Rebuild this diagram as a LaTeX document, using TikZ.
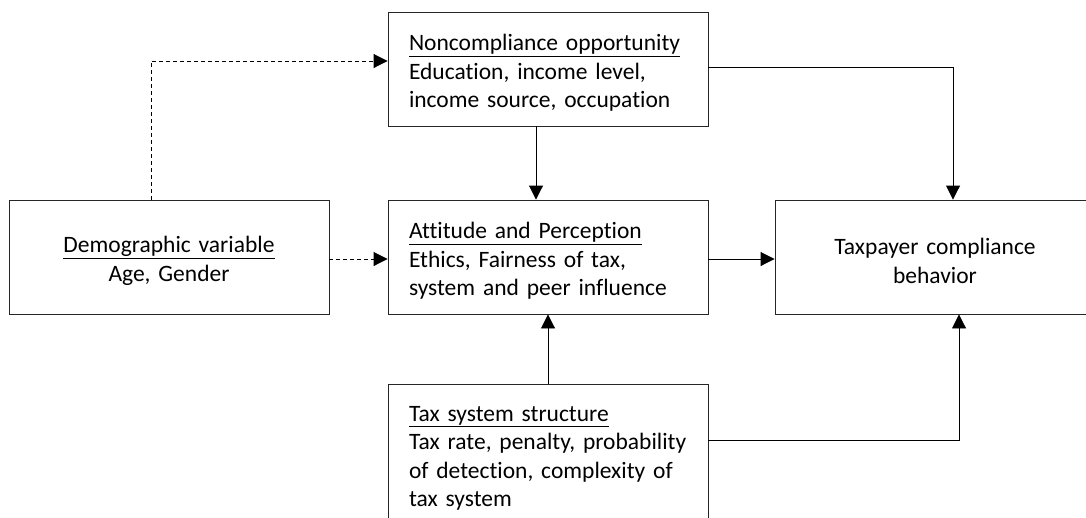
\documentclass[tikz,border=0pt]{standalone}
\usepackage{fontspec}
\setmainfont{Carlito}[Ligatures={NoCommon,NoContextual}]
\usetikzlibrary{arrows.meta,calc}
\newcommand{\topstrut}{\rule{0pt}{24pt}}
\tikzset{
  box/.style={draw=black!85, line width=0.9pt, rectangle, inner xsep=21pt, inner ysep=0pt,
    text width=278pt, minimum height=114pt, font=\fontsize{23.5}{28.5}\selectfont},
  lbox/.style={box, align=left},
  cbox/.style={box, align=center},
  conn/.style={line width=0.9pt, -{Triangle[length=14pt,width=14pt]}},
  dconn/.style={conn, dash pattern=on 4pt off 3pt},
}
\begin{document}
\begin{tikzpicture}[x=1pt,y=-1pt]
\useasboundingbox (0,0) rectangle (1086,517);
\clip (0,0) rectangle (1086,517);
\node[lbox] (nc) at (548,69) {\topstrut\underline{Noncompliance opportunity}\\Education, income level,\\income source, occupation};
\node[lbox] (att) at (548,257) {\topstrut\underline{Attitude and Perception}\\Ethics, Fairness of tax,\\system and peer influence};
\node[cbox] (demo) at (169,257) {\topstrut\underline{Demographic variable}\\Age, Gender};
\node[cbox] (tp) at (935,257) {\topstrut Taxpayer compliance\\behavior};
\node[lbox, minimum height=148pt, anchor=north] (tax) at (548,384) {\underline{Tax system structure}\\Tax rate, penalty, probability\\of detection, complexity of\\tax system};
\draw[dconn] ([xshift=-18pt]demo.north) |- ([yshift=8pt]nc.west);
\draw[dconn] ([yshift=-2pt]demo.east) -- ([yshift=-2pt]att.west);
\draw[conn] ([xshift=-12pt]nc.south) -- ([xshift=-12pt]att.north);
\draw[conn] ([yshift=-2pt]att.east) -- ([yshift=-2pt]tp.west);
\draw[conn] ([yshift=2pt]nc.east) -| ([xshift=18pt]tp.north);
\draw[conn] (tax.north) -- (att.south);
\draw[conn] ([yshift=18pt]tax.east) -| ([xshift=24pt]tp.south);
\end{tikzpicture}
\end{document}
